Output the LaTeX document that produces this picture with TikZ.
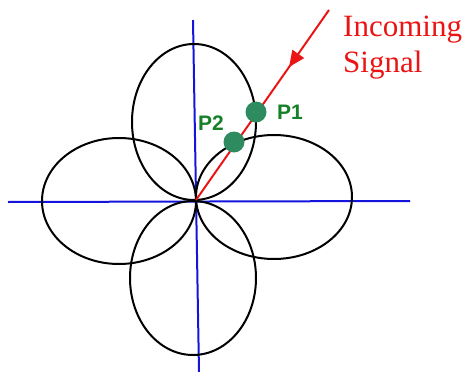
\documentclass[tikz,border=0pt]{standalone}
\usepackage{fontspec}
\setmainfont{Liberation Serif}
\newfontfamily\labfont{Liberation Sans}
\usetikzlibrary{decorations.markings,arrows.meta}
\definecolor{sigred}{RGB}{235,20,20}
\definecolor{axblue}{RGB}{20,20,220}
\definecolor{dotgreen}{RGB}{46,139,96}
\definecolor{txtgreen}{RGB}{20,128,40}
\begin{document}
\begin{tikzpicture}[x=1pt,y=-1pt,
  lobe/.style={draw=black,line width=2pt},
  axis/.style={draw=axblue,line width=2pt},
  sig/.style={draw=sigred,line width=2pt},
  pdot/.style={circle,fill=dotgreen,inner sep=0pt,minimum size=21pt},
  plab/.style={anchor=base west,inner sep=0pt,text=txtgreen,font=\labfont\bfseries\fontsize{21}{24}\selectfont},
  sigtext/.style={anchor=base west,inner sep=0pt,text=sigred,font=\fontsize{31}{36}\selectfont}]
\useasboundingbox (0,0) rectangle (469,372);
% axes
\coordinate (hl) at (8,202);
\coordinate (hr) at (410,201);
\coordinate (vt) at (193,20);
\coordinate (vb) at (199,372);
\draw[axis] (hl) -- (hr);
\draw[axis] (vt) -- (vb);
% lobes
\draw[lobe] (194,122) ellipse (62 and 78);
\draw[lobe] (193,278) ellipse (63 and 77);
\draw[lobe] (119,201) ellipse (77 and 63);
\draw[lobe] (274,197) ellipse (78 and 62);
% signal
\coordinate (o) at (196,200);
\coordinate (src) at (329,10);
\draw[sig,postaction={decorate},decoration={markings,mark=at position 0.3 with {\arrow{Triangle[length=16pt,width=14pt]}}}] (src) -- (o);
% points
\node[pdot] (p1) at (256,112) {};
\node[pdot] (p2) at (234,142) {};
\node[plab] (l1) at (277,119) {P1};
\node[plab] (l2) at (198,130) {P2};
% text
\node[sigtext] (t1) at (343,36) {Incoming};
\node[sigtext] (t2) at (343,72) {Signal};
\end{tikzpicture}
\end{document}
